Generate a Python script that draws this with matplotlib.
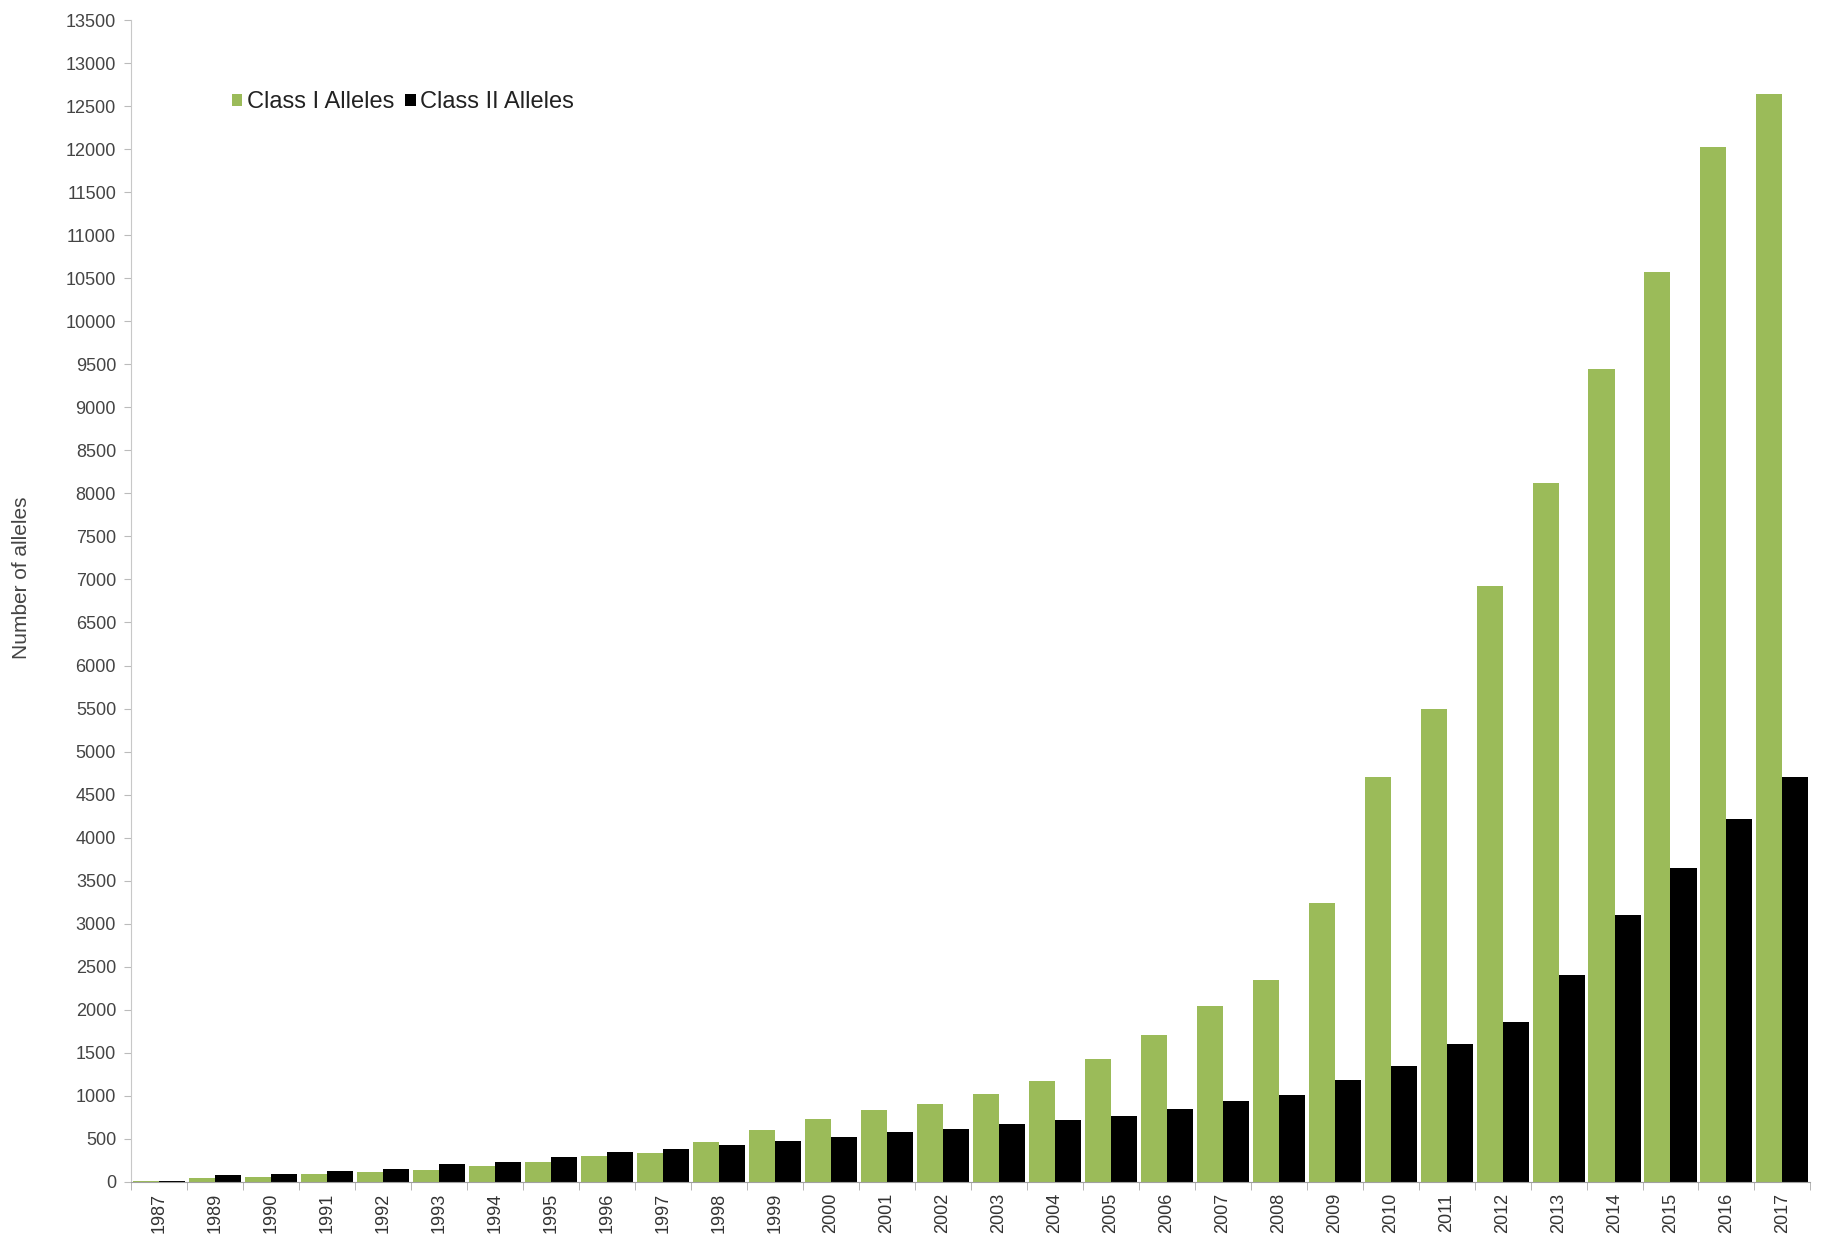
import numpy as np
import matplotlib.pyplot as plt

years = ["1987", "1989", "1990", "1991", "1992", "1993", "1994", "1995", "1996", "1997",
         "1998", "1999", "2000", "2001", "2002", "2003", "2004", "2005", "2006", "2007",
         "2008", "2009", "2010", "2011", "2012", "2013", "2014", "2015", "2016", "2017"]
class_1 = [10, 47, 58, 97, 116, 143, 182, 232, 305, 330,
           461, 600, 728, 832, 910, 1018, 1169, 1432, 1710, 2040,
           2350, 3240, 4700, 5500, 6920, 8120, 9440, 10570, 12030, 12640]
class_2 = [8, 77, 89, 128, 155, 205, 232, 290, 348, 387,
           426, 476, 523, 581, 619, 670, 716, 770, 852, 937,
           1014, 1181, 1343, 1600, 1860, 2400, 3100, 3650, 4220, 4700]

plt.rcParams["font.family"] = ["Liberation Sans", "DejaVu Sans"]

fig = plt.figure(figsize=(18.25, 12.54), dpi=100)
ax = fig.add_axes([0.072, 0.0575, 0.92, 0.9265])

x = np.arange(len(years))
w = 0.465
ax.bar(x - w / 2, class_1, width=w, color="#9bbb59", label="Class I Alleles")
ax.bar(x + w / 2, class_2, width=w, color="#000000", label="Class II Alleles")

ax.set_xlim(-0.5, len(years) - 0.5)
ax.set_ylim(0, 13500)
ax.set_yticks(np.arange(0, 13501, 500))
ax.set_xticks(x)
ax.set_xticklabels(years, rotation=90)
ax.set_xticks(np.arange(-0.5, len(years), 1), minor=True)
ax.tick_params(axis="x", which="major", length=0, labelsize=13, labelcolor="#333333", pad=8)
ax.tick_params(axis="x", which="minor", length=6, color="#aaaaaa")
ax.tick_params(axis="y", length=5, color="#bbbbbb", labelsize=13, labelcolor="#444444", pad=6)

for s in ["top", "right"]:
    ax.spines[s].set_visible(False)
ax.spines["left"].set_color("#c8c8c8")
ax.spines["bottom"].set_color("#a0a0a0")

ax.set_ylabel("Number of alleles", fontsize=15, color="#444444")
ax.yaxis.set_label_coords(-0.06, 0.52)

ax.legend(loc="upper left", bbox_to_anchor=(0.047, 0.957), ncol=2, frameon=False,
          fontsize=17, handlelength=0.45, handleheight=0.45, handletextpad=0.2,
          columnspacing=0.45, labelcolor="#222222")

plt.savefig("out.png", dpi=100)
